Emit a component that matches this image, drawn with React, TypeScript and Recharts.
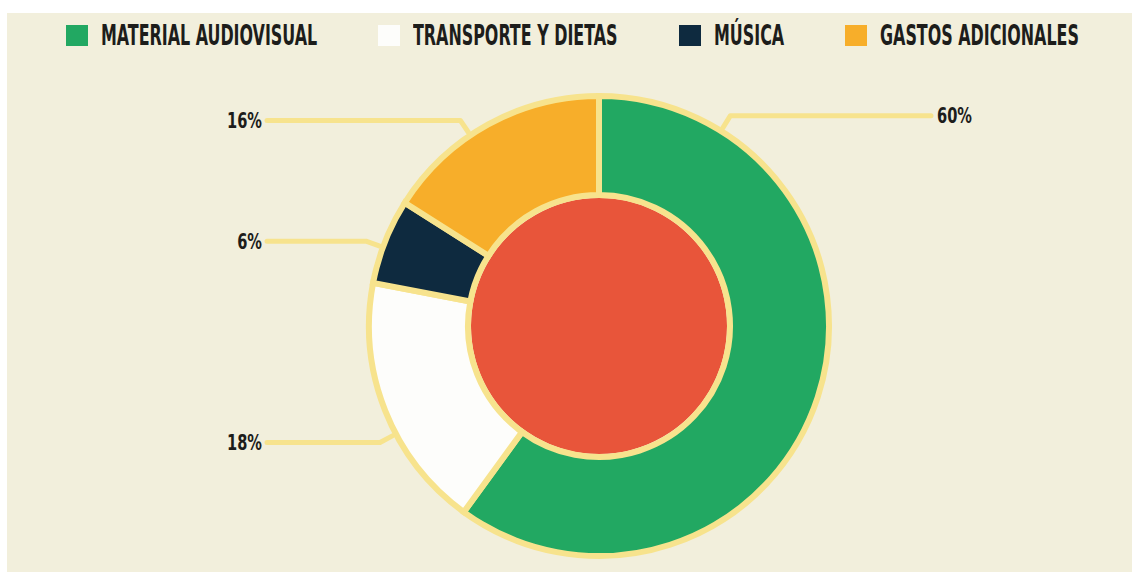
import React from 'react';
import { PieChart, Pie, Cell } from 'recharts';

const categories = ['MATERIAL AUDIOVISUAL', 'TRANSPORTE Y DIETAS', 'MÚSICA', 'GASTOS ADICIONALES'];
const shares = [60, 18, 6, 16];
const colors = ['#22a862', '#fdfdfb', '#0e2a3f', '#f7ae2a'];
// where each callout leaves the ring, degrees counter-clockwise from 3 o'clock
const calloutAngles = [58, 208, 160, 124];

const data = categories.map((name, i) => ({ name, value: shares[i] }));
const centre = [{ name: 'total', value: 100 }];

const BG = '#f2efdc';
const RING = '#f7e38d';
const RED = '#e8553a';
const INK = '#1d1d1b';
const RAD = Math.PI / 180;
const W = 1125;
const H = 559;

const FONT = '"DejaVu Sans Condensed", "Liberation Sans Narrow", sans-serif';
const LEGEND_SIZE = 29;
const LEGEND_SQUEEZE = 0.61;
const LABEL_SQUEEZE = 0.74;

let ctx: CanvasRenderingContext2D | null = null;
const measure = (s: string) => {
  if (!ctx && typeof document !== 'undefined') ctx = document.createElement('canvas').getContext('2d');
  if (!ctx) return s.length * LEGEND_SIZE * 0.5;
  ctx.font = `bold ${LEGEND_SIZE}px ${FONT}`;
  return ctx.measureText(s).width;
};

const Callout = (props: any) => {
  const { cx, cy, outerRadius, index, value } = props;
  const a = calloutAngles[index] * RAD;
  const cos = Math.cos(a);
  const sin = -Math.sin(a);
  const r0 = outerRadius + 4;
  const r1 = outerRadius + 18;
  const x0 = cx + r0 * cos, y0 = cy + r0 * sin;
  const x1 = cx + r1 * cos, y1 = cy + r1 * sin;
  const right = cos > 0;
  const xEnd = cx + (right ? 332 : -332);
  const tx = xEnd + (right ? 6 : -5);
  return (
    <g>
      <path
        d={`M${x0},${y0}L${x1},${y1}L${xEnd},${y1}`}
        fill="none"
        stroke={RING}
        strokeWidth={5}
        strokeLinecap="round"
        strokeLinejoin="round"
      />
      <text
        transform={`translate(${tx},${y1}) scale(${LABEL_SQUEEZE},1)`}
        x={0}
        y={0}
        textAnchor={right ? 'start' : 'end'}
        dominantBaseline="central"
        fill={INK}
        fontFamily={FONT}
        fontWeight="bold"
        fontSize={22}
      >
        {value}%
      </text>
    </g>
  );
};

const LegendRow = () => (
  <div style={{ position: 'absolute', top: 12, left: 59, display: 'flex', gap: 61 }}>
    {categories.map((c, i) => (
      <div key={c} style={{ display: 'flex', alignItems: 'center', height: 21 }}>
        <div style={{ width: 22, height: 21, background: colors[i], marginRight: 13 }} />
        <div style={{ width: measure(c) * LEGEND_SQUEEZE, height: 29, overflow: 'visible' }}>
          <span
            style={{
              display: 'inline-block',
              whiteSpace: 'nowrap',
              fontFamily: FONT,
              fontWeight: 'bold',
              fontSize: LEGEND_SIZE,
              lineHeight: '29px',
              color: INK,
              transform: `scaleX(${LEGEND_SQUEEZE})`,
              transformOrigin: 'left center',
            }}
          >
            {c}
          </span>
        </div>
      </div>
    ))}
  </div>
);

export default function App() {
  return (
    <div style={{ position: 'fixed', left: 7, top: 13, width: W, height: H, background: BG, overflow: 'hidden' }}>
      <LegendRow />
      <PieChart width={W} height={H} margin={{ top: 0, right: 0, bottom: 0, left: 0 }}>
        <Pie
          data={centre}
          dataKey="value"
          cx={592}
          cy={313}
          outerRadius={128}
          fill={RED}
          stroke="none"
          isAnimationActive={false}
        />
        <Pie
          data={data}
          dataKey="value"
          cx={592}
          cy={313}
          innerRadius={131}
          outerRadius={230}
          startAngle={90}
          endAngle={-270}
          stroke={RING}
          strokeWidth={6}
          label={Callout}
          labelLine={false}
          isAnimationActive={false}
        >
          {data.map((d, i) => (
            <Cell key={d.name} fill={colors[i]} />
          ))}
        </Pie>
      </PieChart>
    </div>
  );
}
